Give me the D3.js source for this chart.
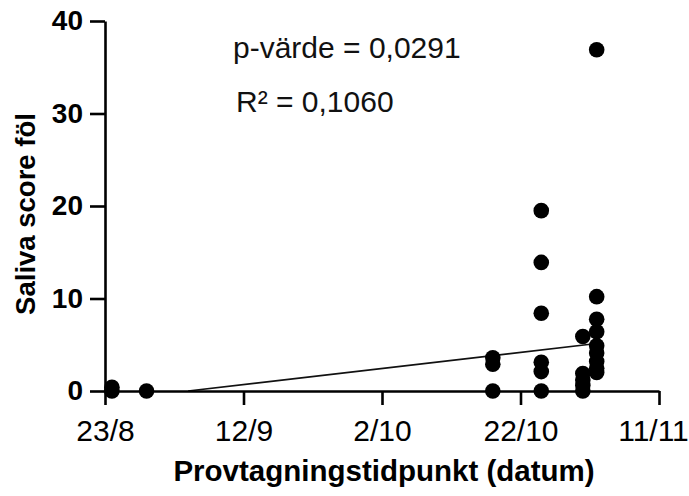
<!DOCTYPE html>
<html>
<head>
<meta charset="utf-8">
<script src="https://cdn.jsdelivr.net/npm/d3@7"></script>
<style>
  html, body { margin: 0; padding: 0; background: #fff; }
  svg { display: block; font-family: "Liberation Sans", Arial, Helvetica, sans-serif; }
</style>
</head>
<body>
<svg id="chart" width="689" height="496"></svg>
<script>
// ---- data ----
const sampleDates = ["2023-08-24","2023-08-24","2023-08-29",
  "2023-10-18","2023-10-18","2023-10-18",
  "2023-10-25","2023-10-25","2023-10-25","2023-10-25","2023-10-25","2023-10-25",
  "2023-10-31","2023-10-31","2023-10-31","2023-10-31","2023-10-31",
  "2023-11-02","2023-11-02","2023-11-02","2023-11-02","2023-11-02","2023-11-02","2023-11-02","2023-11-02","2023-11-02"];
const salivaScores = [0, 0.4, 0,
  0, 2.9, 3.6,
  0, 2.1, 3.1, 8.4, 13.9, 19.5,
  0, 0.6, 1.2, 1.9, 5.9,
  2.0, 2.45, 3.2, 4.1, 4.9, 6.4, 7.75, 10.2, 36.9];
const regressionDates = ["2023-09-04", "2023-11-02"];
const regressionValues = [0, 5.13];
const xTickDates = ["2023-08-23","2023-09-12","2023-10-02","2023-10-22","2023-11-11"];
const yTickValues = [0, 10, 20, 30, 40];
const pText = "p-värde = 0,0291";
const r2Text = "R² = 0,1060";
const xTitle = "Provtagningstidpunkt (datum)";
const yTitle = "Saliva score föl";

// ---- layout ----
const parse = d3.timeParse("%Y-%m-%d");
const svg = d3.select("#chart");
const x0 = 105, x1 = 659, yTop = 21, yBot = 391;

const x = d3.scaleTime()
  .domain([parse(xTickDates[0]), parse(xTickDates[xTickDates.length - 1])])
  .range([x0, x1]);
const y = d3.scaleLinear().domain([0, 40]).range([yBot, yTop]);

// regression line
const reg = regressionDates.map((d, i) => ({ d: parse(d), v: regressionValues[i] }));
svg.append("path")
  .datum(reg)
  .attr("fill", "none")
  .attr("stroke", "#111")
  .attr("stroke-width", 1.6)
  .attr("d", d3.line().x(d => x(d.d)).y(d => y(d.v)));

// x axis
const xAxis = d3.axisBottom(x)
  .tickValues(xTickDates.map(parse))
  .tickFormat(d3.timeFormat("%-d/%-m"))
  .tickSize(14)
  .tickSizeOuter(0)
  .tickPadding(15);
const gx = svg.append("g").attr("transform", `translate(0,${yBot})`).call(xAxis);
gx.select(".domain").attr("stroke", "#000").attr("stroke-width", 2.6);
gx.selectAll(".tick line").attr("stroke", "#000").attr("stroke-width", 2.6);
gx.selectAll(".tick text").attr("fill", "#000").attr("font-size", 30)
  .attr("font-family", "Liberation Sans, Arial, sans-serif");
gx.selectAll(".tick text").filter((d, i, n) => i === n.length - 1).attr("dx", -6);

// y axis
const yAxis = d3.axisLeft(y)
  .tickValues(yTickValues)
  .tickSize(15)
  .tickSizeOuter(0)
  .tickPadding(7);
const gy = svg.append("g").attr("transform", `translate(${x0},0)`).call(yAxis);
gy.select(".domain").attr("stroke", "#000").attr("stroke-width", 2.6);
gy.selectAll(".tick line").attr("stroke", "#000").attr("stroke-width", 2.6);
gy.selectAll(".tick text").attr("fill", "#000").attr("font-size", 28)
  .attr("font-weight", "bold")
  .attr("font-family", "Liberation Sans, Arial, sans-serif");

// points
const pts = sampleDates.map((d, i) => ({ d: parse(d), v: salivaScores[i] }));
svg.append("g").selectAll("circle")
  .data(pts)
  .join("circle")
  .attr("cx", d => x(d.d))
  .attr("cy", d => y(d.v))
  .attr("r", 7.8)
  .attr("fill", "#000");

// annotations
svg.append("text").attr("x", 233).attr("y", 58)
  .attr("font-size", 30).attr("fill", "#111").text(pText);
svg.append("text").attr("x", 236).attr("y", 112)
  .attr("font-size", 30).attr("fill", "#111").text(r2Text);

// axis titles
svg.append("text")
  .attr("x", (x0 + x1) / 2 + 2).attr("y", 481)
  .attr("text-anchor", "middle")
  .attr("font-size", 29.5).attr("font-weight", "bold").attr("fill", "#000")
  .text(xTitle);
svg.append("text")
  .attr("transform", `translate(35,214) rotate(-90)`)
  .attr("text-anchor", "middle")
  .attr("font-size", 27.5).attr("font-weight", "bold").attr("fill", "#000")
  .text(yTitle);
</script>
</body>
</html>
